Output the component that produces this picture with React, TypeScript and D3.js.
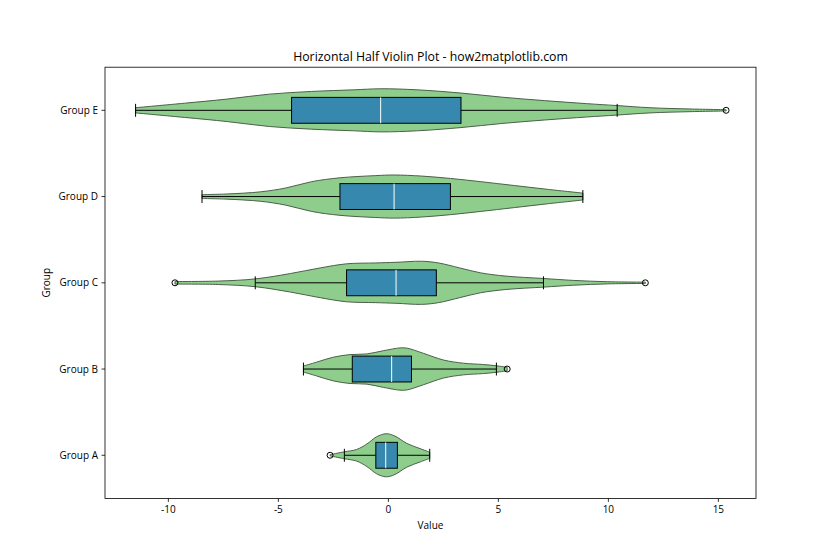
import React from 'react';
import * as d3 from 'd3';

const groups = ['Group A', 'Group B', 'Group C', 'Group D', 'Group E'];
const q1 = [-0.57, -1.64, -1.9, -2.2, -4.4];
const medians = [-0.12, 0.15, 0.35, 0.26, -0.35];
const q3 = [0.41, 1.05, 2.18, 2.82, 3.3];
const whiskerLow = [-2.0, -3.86, -6.05, -8.47, -11.49];
const whiskerHigh = [1.88, 4.91, 7.05, 8.84, 10.4];
const outliers: number[][] = [[-2.65], [5.4], [-9.7, 11.68], [], [15.35]];

const violinA = [[-2.65, 0.03], [-2.0, 0.16], [-1.44, 0.27], [-0.98, 0.52], [-0.53, 0.86], [-0.1, 1.0], [0.3, 0.89], [0.84, 0.55], [1.44, 0.31], [1.88, 0.14]];
const violinB = [[-3.86, 0.14], [-3.26, 0.32], [-2.5, 0.55], [-1.74, 0.67], [-0.98, 0.7], [-0.23, 0.85], [0.53, 0.98], [0.84, 0.97], [1.59, 0.73], [2.5, 0.42], [3.41, 0.27], [4.32, 0.21], [4.91, 0.15], [5.4, 0.08]];
const violinC = [[-9.7, 0.06], [-7.72, 0.08], [-6.05, 0.18], [-4.45, 0.43], [-3.1, 0.69], [-1.9, 0.88], [-0.6, 0.92], [0.35, 0.95], [1.51, 1.0], [2.28, 0.92], [3.24, 0.69], [4.2, 0.46], [5.35, 0.31], [7.05, 0.2], [8.43, 0.11], [9.97, 0.05], [11.68, 0.03]];
const violinD = [[-8.47, 0.09], [-7.34, 0.12], [-5.8, 0.22], [-4.65, 0.4], [-3.49, 0.69], [-2.2, 0.87], [-0.6, 0.97], [0.26, 1.0], [1.51, 0.95], [2.82, 0.84], [4.2, 0.69], [5.74, 0.51], [7.28, 0.33], [8.84, 0.16]];
const violinE = [[-11.49, 0.12], [-9.26, 0.33], [-7.34, 0.52], [-5.41, 0.75], [-3.49, 0.875], [-1.57, 0.95], [-0.35, 1.0], [1.32, 0.95], [3.3, 0.8], [5.16, 0.61], [7.09, 0.45], [9.01, 0.31], [10.4, 0.22], [11.89, 0.12], [13.81, 0.06], [15.35, 0.03]];
const violins = [violinA, violinB, violinC, violinD, violinE];

const xTicks = [-10, -5, 0, 5, 10, 15];

const W = 840, H = 560;
const L = 105, R = 756, T = 67.2, B = 498.4;
const FONT = '"Open Sans", "Noto Sans", sans-serif';

export default function App() {
  const x = d3.scaleLinear().domain([-12.88, 16.71]).range([L, R]);
  const y = d3.scaleLinear().domain([0.5, 5.5]).range([B, T]);
  const vHalf = y(0) - y(0.25);
  const bHalf = y(0) - y(0.15);
  const cHalf = y(0) - y(0.075);

  return (
    <svg width={W} height={H} style={{ position: 'absolute', left: 0, top: 0, background: '#fff' }} fontFamily={FONT}>
      <rect x={0} y={0} width={W} height={H} fill="#fff" />
      {violins.map((pts, i) => {
        const cy = y(i + 1);
        const area = d3.area<number[]>()
          .x(d => x(d[0]))
          .y0(d => cy - d[1] * vHalf)
          .y1(d => cy + d[1] * vHalf)
          .curve(d3.curveCatmullRom);
        return <path key={'v' + i} d={area(pts) || ''} fill="#8ecd8b" stroke="#4a604a" strokeWidth={1} />;
      })}
      {groups.map((g, i) => {
        const cy = y(i + 1);
        return (
          <g key={'b' + i}>
            <line x1={x(whiskerLow[i])} x2={x(q1[i])} y1={cy} y2={cy} stroke="#000" strokeWidth={1} />
            <line x1={x(q3[i])} x2={x(whiskerHigh[i])} y1={cy} y2={cy} stroke="#000" strokeWidth={1} />
            <line x1={x(whiskerLow[i])} x2={x(whiskerLow[i])} y1={cy - cHalf} y2={cy + cHalf} stroke="#000" strokeWidth={1} />
            <line x1={x(whiskerHigh[i])} x2={x(whiskerHigh[i])} y1={cy - cHalf} y2={cy + cHalf} stroke="#000" strokeWidth={1} />
            <rect x={x(q1[i])} y={cy - bHalf} width={x(q3[i]) - x(q1[i])} height={2 * bHalf} fill="#3788ae" stroke="#000" strokeWidth={1} />
            <line x1={x(medians[i])} x2={x(medians[i])} y1={cy - bHalf} y2={cy + bHalf} stroke="#fff" strokeWidth={1} />
            {outliers[i].map((o, j) => (
              <circle key={j} cx={x(o)} cy={cy} r={3} fill="none" stroke="#000" strokeWidth={1} />
            ))}
          </g>
        );
      })}
      <rect x={L} y={T} width={R - L} height={B - T} fill="none" stroke="#000" strokeWidth={0.8} />
      {xTicks.map(t => (
        <g key={'xt' + t}>
          <line x1={x(t)} x2={x(t)} y1={B} y2={B + 3.5} stroke="#000" strokeWidth={0.8} />
          <text x={x(t)} y={B + 15} textAnchor="middle" fontSize={10} fill="#000">{t < 0 ? '-' + Math.abs(t) : String(t)}</text>
        </g>
      ))}
      {groups.map((g, i) => (
        <g key={'yt' + i}>
          <line x1={L - 3.5} x2={L} y1={y(i + 1)} y2={y(i + 1)} stroke="#000" strokeWidth={0.8} />
          <text x={L - 7} y={y(i + 1) + 3.5} textAnchor="end" fontSize={10} fill="#000">{g}</text>
        </g>
      ))}
      <text x={(L + R) / 2} y={529} textAnchor="middle" fontSize={10} fill="#000">Value</text>
      <text transform={`translate(50,${(T + B) / 2}) rotate(-90)`} textAnchor="middle" fontSize={10} fill="#000">Group</text>
      <text x={(L + R) / 2} y={61} textAnchor="middle" fontSize={12.3} fill="#000">Horizontal Half Violin Plot - how2matplotlib.com</text>
    </svg>
  );
}
